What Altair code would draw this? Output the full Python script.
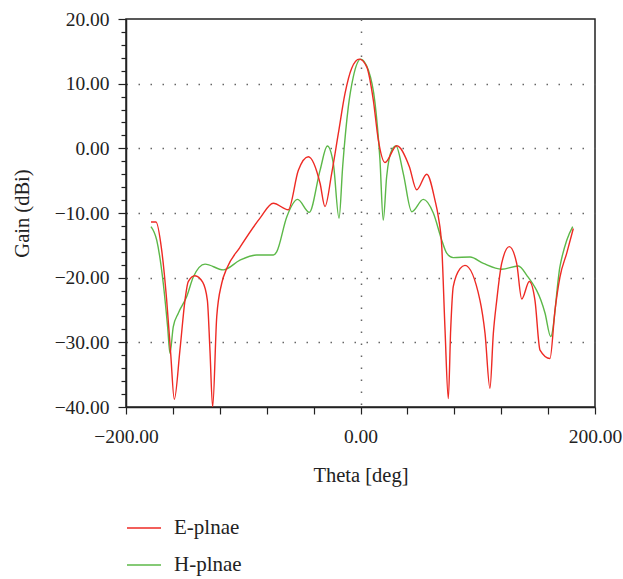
import altair as alt
import pandas as pd

# E-plane gain (deg, dBi)
e_theta = [-178.7, -174.4, -169.6, -165.3, -161.9, -158.8, -154.0, -149.7, -146.9, -141.2,
           -134.6, -130.6, -128.4, -126.1, -122.6, -118.4, -114.1, -102.8, -85.7, -74.4,
           -61.6, -53.0, -44.5, -34.5, -30.3, -24.6, -18.9, -13.2, -7.5, -1.0,
           5.3, 10.9, 15.2, 20.9, 30.9, 41.6, 47.9, 56.5, 63.5, 66.4,
           69.3, 72.1, 74.9, 76.9, 79.1, 84.9, 89.1, 101.9, 106.2, 110.4,
           113.3, 116.2, 120.4, 126.9, 133.2, 137.5, 144.0, 148.8, 153.1, 161.6,
           165.9, 170.1, 175.9, 181.5]
e_gain = [-11.4, -11.4, -15.7, -23.5, -31.7, -38.8, -31.2, -23.5, -20.6, -19.7,
          -20.7, -23.5, -31.2, -40.0, -26.0, -20.9, -18.6, -15.3, -10.8, -8.5,
          -9.5, -3.4, -1.3, -5.4, -9.0, -3.9, 2.3, 8.5, 12.4, 13.8,
          12.6, 7.5, 1.3, -2.2, 0.4, -2.8, -6.4, -4.0, -8.0, -10.6,
          -15.2, -28.1, -38.7, -28.1, -21.4, -18.6, -18.1, -23.5, -28.6, -37.1,
          -28.6, -23.5, -17.8, -15.2, -17.8, -23.3, -20.6, -23.5, -31.2, -32.5,
          -25.0, -19.9, -16.2, -12.4]

# H-plane gain (deg, dBi)
h_theta = [-178.7, -173.8, -168.2, -164.5, -162.5, -159.7, -155.4, -148.2, -142.6, -132.6,
           -117.0, -102.8, -88.5, -74.4, -71.5, -62.9, -53.6, -43.7, -34.5, -28.3,
           -23.2, -18.3, -15.2, -10.4, -6.1, 0.2, 6.7, 12.4, 16.6, 19.4,
           22.3, 26.6, 30.3, 36.5, 43.7, 53.6, 62.1, 69.3, 73.5, 79.1,
           93.4, 104.8, 120.4, 134.6, 141.7, 157.4, 162.2, 170.1, 175.9, 181.0]
h_gain = [-12.1, -14.2, -20.9, -27.6, -31.7, -27.6, -25.5, -22.9, -19.9, -17.9,
          -18.8, -17.3, -16.5, -16.5, -16.0, -10.6, -7.9, -9.9, -3.4, 0.35,
          -2.3, -10.8, -2.8, 6.4, 11.1, 13.8, 12.1, 7.0, -1.8, -11.1,
          -4.4, -0.3, 0.35, -3.9, -9.8, -7.9, -10.0, -14.2, -16.2, -16.9,
          -16.8, -17.8, -18.7, -18.2, -19.6, -25.5, -29.1, -18.3, -14.2, -12.1]

series_names = ["E-plnae", "H-plnae"]
series_colors = ["#ee2a24", "#5cb848"]

# H first so that the red E-plane curve is drawn on top
df = pd.concat([
    pd.DataFrame({"theta": h_theta, "gain": h_gain, "series": series_names[1], "o": range(len(h_theta))}),
    pd.DataFrame({"theta": e_theta, "gain": e_gain, "series": series_names[0], "o": range(len(e_theta))}),
], ignore_index=True)

FONT = "Liberation Serif"
x_ticks = list(range(-200, 201, 40))
y_ticks = list(range(-40, 21, 2))

chart = alt.Chart(df).mark_line(interpolate="monotone", strokeWidth=1.4, clip=True).encode(
    x=alt.X("theta:Q",
            scale=alt.Scale(domain=[-200, 200], nice=False, zero=False),
            axis=alt.Axis(title="Theta [deg]", values=x_ticks, format=".2f",
                          labelExpr="(datum.value == 0 || abs(datum.value) == 200) ? datum.label : ''",
                          labelFlush=False, labelOverlap=False,
                          tickSize=7, labelPadding=13, titlePadding=20,
                          grid=True,
                          gridOpacity={"condition": {"test": "datum.value === 0", "value": 1}, "value": 0})),
    y=alt.Y("gain:Q",
            scale=alt.Scale(domain=[-40, 20], nice=False, zero=False),
            axis=alt.Axis(title="Gain (dBi)", values=y_ticks, format=".2f",
                          labelExpr="(datum.value % 10 == 0) ? datum.label : ''",
                          labelFlush=False, labelOverlap=False,
                          tickSize={"condition": {"test": "datum.value % 10 === 0", "value": 8}, "value": 5},
                          labelPadding=9, titlePadding=22,
                          grid=True,
                          gridOpacity={"condition": {"test": "datum.value % 10 === 0 && datum.value > -40 && datum.value < 20", "value": 1}, "value": 0})),
    color=alt.Color("series:N",
                    scale=alt.Scale(domain=series_names, range=series_colors),
                    legend=alt.Legend(title=None, orient="none", legendX=0, legendY=491,
                                      direction="vertical", symbolType="stroke",
                                      symbolSize=1156, symbolStrokeWidth=1.4,
                                      labelOffset=12, rowPadding=9,
                                      labelFont=FONT, labelFontSize=21, labelColor="#222")),
    order="o:Q",
).properties(
    width=469, height=388,
    autosize=alt.AutoSizeParams(type="none"),
    padding={"left": 126, "top": 19, "right": 28, "bottom": 172},
).configure_view(
    stroke="#222", strokeWidth=1.5
).configure_axis(
    labelFont=FONT, labelFontSize=19.5, labelColor="#222",
    titleFont=FONT, titleFontSize=20.5, titleFontWeight="normal", titleColor="#222",
    domainColor="#222", domainWidth=1.5, tickColor="#222", tickWidth=1.2,
    gridColor="#666", gridDash=[1.5, 10.5], gridWidth=1.5,
)

chart.save("out.html", embed_options={"renderer": "svg", "actions": False})
